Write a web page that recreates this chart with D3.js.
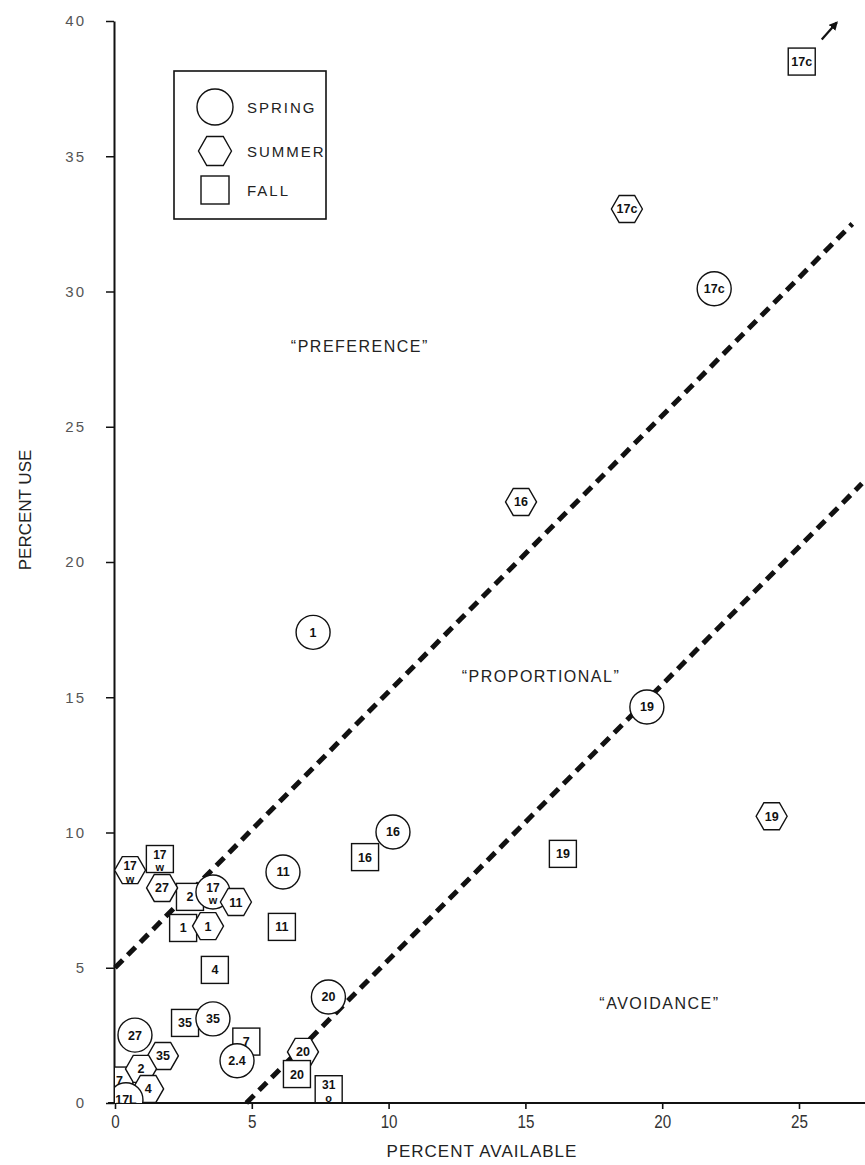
<!DOCTYPE html>
<html>
<head>
<meta charset="utf-8">
<script src="https://cdn.jsdelivr.net/npm/d3@7"></script>
<style>
  html, body { margin: 0; padding: 0; background: #fff; }
  svg { display: block; }
  text { font-family: "Liberation Sans", Arial, Helvetica, sans-serif; }
</style>
</head>
<body>
<svg id="chart" width="865" height="1165"></svg>
<script>
// ---------------- data ----------------
const xTicks = [0, 5, 10, 15, 20, 25];
const yTicks = [0, 5, 10, 15, 20, 25, 30, 35, 40];

// SPRING (circles)
const springLabels = ["17\nw", "35", "27", "2.4", "17L", "11", "20", "16", "1", "19", "17c"];
const springX      = [3.58, 3.58, 0.73, 4.46, 0.40, 6.14, 7.80, 10.16, 7.24, 19.44, 21.9];
const springY      = [7.80, 3.11, 2.51, 1.56, 0.12, 8.54, 3.92, 10.02, 17.4, 14.64, 30.1];

// SUMMER (hexagons)
const summerLabels = ["17\nw", "27", "11", "1", "35", "2", "4", "20", "16", "17c", "19"];
const summerX      = [0.55, 1.72, 4.42, 3.40, 1.75, 0.95, 1.21, 6.87, 14.84, 18.71, 24.0];
const summerY      = [8.61, 7.95, 7.43, 6.54, 1.74, 1.26, 0.52, 1.89, 22.22, 33.05, 10.6];

// FALL (squares)
const fallLabels = ["17\nw", "2", "1", "4", "35", "7", "7", "11", "16", "20", "31\no", "19", "17c"];
const fallX      = [1.64, 2.74, 2.49, 3.65, 2.56, 4.80, 0.16, 6.10, 9.14, 6.65, 7.81, 16.37, 25.1];
const fallY      = [9.02, 7.62, 6.47, 4.92, 2.96, 2.27, 0.83, 6.51, 9.09, 1.07, 0.51, 9.21, 38.5];

// dashed reference lines
const upperLineX = [0, 26.95];
const upperLineY = [5, 32.5];
const lowerLineX = [4.8, 27.3];
const lowerLineY = [0, 22.9];

// region annotations
const zoneLabels = ["\u201CPREFERENCE\u201D", "\u201CPROPORTIONAL\u201D", "\u201CAVOIDANCE\u201D"];
const zoneX      = [8.95, 15.57, 19.9];
const zoneY      = [28.0, 15.8, 3.7];

const legendLabels = ["SPRING", "SUMMER", "FALL"];
const legendShapes = ["circle", "hexagon", "square"];

// ---------------- chart ----------------
const svg = d3.select("#chart");
svg.append("rect").attr("width", 865).attr("height", 1165).attr("fill", "#fff");

const x = d3.scaleLinear().domain([0, 25]).range([115, 799]);
const y = d3.scaleLinear().domain([0, 40]).range([1103, 21]);

const ink = "#111";

// clip for plot area
svg.append("clipPath").attr("id", "plotclip")
  .append("rect").attr("x", x(0)).attr("y", 0).attr("width", 865 - x(0)).attr("height", y(0));

// y axis
const yAxis = d3.axisLeft(y).tickValues(yTicks).tickSize(8).tickSizeOuter(0).tickPadding(20);
const gy = svg.append("g").attr("transform", `translate(${x(0) - 1},0)`).call(yAxis);
gy.select(".domain").attr("stroke", ink).attr("stroke-width", 2);
gy.selectAll(".tick line").attr("stroke", ink).attr("stroke-width", 1.5);
gy.selectAll(".tick text")
  .attr("font-size", 15).attr("fill", "#555").attr("letter-spacing", "2px")
  .attr("font-family", "Liberation Sans, Arial, sans-serif");

// x axis
const xAxis = d3.axisBottom(x).tickValues(xTicks).tickSize(6).tickSizeOuter(0).tickPadding(6);
const gx = svg.append("g").attr("transform", `translate(0,${y(0)})`).call(xAxis);
gx.select(".domain").remove();
gx.selectAll(".tick line").attr("stroke", ink).attr("stroke-width", 1.6);
gx.selectAll(".tick text")
  .attr("font-size", 19).attr("fill", "#333")
  .attr("transform", "scale(0.8,1)")
  .attr("font-family", "Liberation Sans, Arial, sans-serif");
svg.append("line")
  .attr("x1", x(0) - 7).attr("x2", 865).attr("y1", y(0)).attr("y2", y(0))
  .attr("stroke", ink).attr("stroke-width", 2.2);

// axis titles
svg.append("text")
  .attr("x", 482).attr("y", 1157).attr("text-anchor", "middle")
  .attr("font-size", 17).attr("letter-spacing", "1px").attr("fill", "#222")
  .text("PERCENT AVAILABLE");
svg.append("text")
  .attr("transform", "translate(31,510) rotate(-90)")
  .attr("text-anchor", "middle")
  .attr("font-size", 17).attr("fill", "#222")
  .text("PERCENT USE");

// dashed lines
const lineGen = d3.line().x(d => x(d[0])).y(d => y(d[1]));
[[upperLineX, upperLineY], [lowerLineX, lowerLineY]].forEach(([lx, ly]) => {
  svg.append("path")
    .attr("d", lineGen(lx.map((v, i) => [v, ly[i]])))
    .attr("fill", "none").attr("stroke", ink)
    .attr("stroke-width", 5).attr("stroke-dasharray", "11,7");
});

// zone annotations
zoneLabels.forEach((t, i) => {
  svg.append("text")
    .attr("x", x(zoneX[i])).attr("y", y(zoneY[i]) + 6)
    .attr("text-anchor", "middle")
    .attr("font-size", 16).attr("letter-spacing", "1.5px").attr("fill", "#222")
    .text(t);
});

// shapes
const hexPath = (w, h) => {
  const R = w / 2, hh = h / 2;
  return `M${R},0L${R / 2},${-hh}L${-R / 2},${-hh}L${-R},0L${-R / 2},${hh}L${R / 2},${hh}Z`;
};

function drawShape(g, shape, size) {
  if (shape === "circle") {
    g.append("circle").attr("r", size.r).attr("fill", "#fff").attr("stroke", ink).attr("stroke-width", 1.4);
  } else if (shape === "hexagon") {
    g.append("path").attr("d", hexPath(size.w, size.h)).attr("fill", "#fff").attr("stroke", ink).attr("stroke-width", 1.4);
  } else {
    g.append("rect").attr("x", -size.s / 2).attr("y", -size.s / 2).attr("width", size.s).attr("height", size.s)
      .attr("fill", "#fff").attr("stroke", ink).attr("stroke-width", 1.4);
  }
}

const points = [];
fallLabels.forEach((l, i) => points.push({ shape: "square", label: l, x: fallX[i], y: fallY[i] }));
springLabels.forEach((l, i) => points.push({ shape: "circle", label: l, x: springX[i], y: springY[i] }));
summerLabels.forEach((l, i) => points.push({ shape: "hexagon", label: l, x: summerX[i], y: summerY[i] }));

// drawing order adjustments (which mark overlaps which in the reference)
const onTop = new Set(["circle|17L", "square|20"]);
points.sort((a, b) => (onTop.has(a.shape + "|" + a.label) ? 1 : 0) - (onTop.has(b.shape + "|" + b.label) ? 1 : 0));

const plot = svg.append("g").attr("clip-path", "url(#plotclip)");
const markSize = { r: 17, w: 31, h: 27, s: 27 };

points.forEach(p => {
  const g = plot.append("g").attr("transform", `translate(${x(p.x)},${y(p.y)})`);
  drawShape(g, p.shape, markSize);
  const parts = p.label.split("\n");
  if (parts.length === 1) {
    g.append("text").attr("text-anchor", "middle").attr("dy", "0.36em")
      .attr("font-size", 12.5).attr("font-weight", "bold").attr("fill", ink)
      .text(parts[0]);
  } else {
    g.append("text").attr("text-anchor", "middle").attr("y", -4.5).attr("dy", "0.36em")
      .attr("font-size", 12).attr("font-weight", "bold").attr("fill", ink)
      .text(parts[0]);
    g.append("text").attr("text-anchor", "middle").attr("y", 8.5).attr("dy", "0.36em")
      .attr("font-size", 11).attr("font-weight", "bold").attr("fill", ink)
      .text(parts[1]);
  }
});

// arrow from the off-scale fall "17c" point
const offPt = points.find(p => p.shape === "square" && p.label === "17c");
const ax0 = x(offPt.x) + 20, ay0 = y(offPt.y) - 22, ax1 = x(offPt.x) + 35, ay1 = y(offPt.y) - 39;
svg.append("defs").append("marker")
  .attr("id", "arrowhead").attr("viewBox", "0 0 10 10").attr("refX", 8).attr("refY", 5)
  .attr("markerWidth", 4).attr("markerHeight", 4).attr("orient", "auto")
  .append("path").attr("d", "M0,0L10,5L0,10Z").attr("fill", ink);
svg.append("line")
  .attr("x1", ax0).attr("y1", ay0).attr("x2", ax1).attr("y2", ay1)
  .attr("stroke", ink).attr("stroke-width", 2.2).attr("marker-end", "url(#arrowhead)");

// legend
const legend = svg.append("g");
legend.append("rect").attr("x", 174).attr("y", 71).attr("width", 152).attr("height", 148)
  .attr("fill", "#fff").attr("stroke", ink).attr("stroke-width", 1.6);
const legendY = [107, 151, 190];
const legendSize = { r: 18, w: 33, h: 29, s: 28 };
legendLabels.forEach((lab, i) => {
  const g = legend.append("g").attr("transform", `translate(215,${legendY[i]})`);
  drawShape(g, legendShapes[i], legendSize);
  legend.append("text").attr("x", 247).attr("y", legendY[i] + 5.5)
    .attr("font-size", 15).attr("letter-spacing", "2px").attr("fill", "#222")
    .text(lab);
});
</script>
</body>
</html>
